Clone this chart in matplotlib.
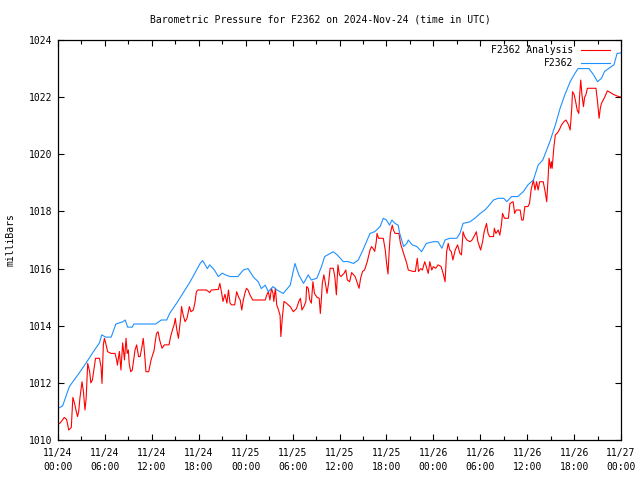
import numpy as np
import pandas as pd
import matplotlib
matplotlib.use('Agg')
import matplotlib.pyplot as plt
import matplotlib.dates as mdates
from matplotlib.ticker import MultipleLocator

# hours after 2024-11-24 00:00 UTC and pressure in mb
fc_hours = [0, 0.6, 1.45, 2.7, 3.6, 4.4, 5.3, 5.6, 6.1, 6.8, 7.4, 8.3, 8.6, 8.9, 9.5, 9.7,
            12.5, 13.2, 13.9, 14.3, 15.2, 16.1, 16.9, 17.5, 18.2, 18.5, 19.1, 19.4, 20.0,
            20.5, 21.0, 21.4, 22.0, 23.0, 23.7, 24.3, 25.0, 25.6, 26.0, 26.5, 26.9, 27.5,
            28.0, 28.8, 29.7, 30.3, 30.8, 31.4, 32.0, 32.4, 33.1, 33.7, 34.1, 35.2, 35.7,
            36.5, 37.0, 37.8, 38.4, 39.0, 39.9, 40.5, 41.2, 41.6, 42.0, 42.4, 42.7, 43.1,
            43.5, 43.7, 44.2, 44.6, 44.8, 45.3, 45.9, 46.5, 47.1, 48.0, 48.6, 49.1, 49.5,
            50.1, 51.0, 51.4, 51.8, 52.7, 53.3, 54.0, 54.6, 55.0, 55.7, 56.3, 57.0, 57.4,
            58.0, 58.8, 59.5, 60.1, 60.8, 61.4, 62.0, 62.9, 63.6, 64.2, 64.8, 65.5, 66.1,
            66.5, 67.9, 68.5, 69.0, 69.5, 69.9, 70.4, 71.1, 71.5, 72.0]
fc_mb = [1011.1, 1011.2, 1011.87, 1012.34, 1012.7, 1013.04, 1013.4, 1013.68, 1013.6, 1013.6,
         1014.06, 1014.14, 1014.2, 1013.95, 1013.95, 1014.06, 1014.06, 1014.2, 1014.2, 1014.44,
         1014.8, 1015.19, 1015.54, 1015.84, 1016.19, 1016.28, 1016.0, 1016.13, 1015.95,
         1015.72, 1015.84, 1015.78, 1015.72, 1015.72, 1015.95, 1016.0, 1015.7, 1015.54,
         1015.3, 1015.42, 1015.19, 1015.37, 1015.25, 1015.13, 1015.42, 1016.18, 1015.78,
         1015.48, 1015.78, 1015.6, 1015.66, 1016.07, 1016.42, 1016.59, 1016.48, 1016.24,
         1016.25, 1016.18, 1016.3, 1016.65, 1017.23, 1017.29, 1017.47, 1017.76, 1017.7,
         1017.52, 1017.7, 1017.58, 1017.52, 1017.23, 1016.77, 1016.88, 1017.0, 1016.83,
         1016.77, 1016.59, 1016.88, 1016.94, 1016.94, 1016.71, 1017.0, 1017.06, 1017.06,
         1017.23, 1017.58, 1017.64, 1017.76, 1017.93, 1018.05, 1018.17, 1018.4, 1018.46,
         1018.46, 1018.34, 1018.52, 1018.52, 1018.69, 1018.93, 1019.1, 1019.62, 1019.8,
         1020.44, 1021.02, 1021.6, 1022.07, 1022.54, 1022.83, 1023.0, 1023.0, 1022.78,
         1022.54, 1022.66, 1022.9, 1023.0, 1023.13, 1023.53, 1023.55]

an_hours = [0.0, 0.3, 0.8, 1.1, 1.37, 1.7, 1.9, 2.1, 2.3, 2.5, 2.65, 2.8, 3.07, 3.25, 3.45,
            3.6, 3.8, 4.05, 4.2, 4.4, 4.8, 5.3, 5.5, 5.63, 5.8, 5.93, 6.1, 6.35, 6.8, 7.3,
            7.5, 7.6, 7.85, 8.05, 8.27, 8.5, 8.7, 8.85, 9.0, 9.1, 9.3, 9.5, 9.85, 10.06,
            10.3, 10.5, 10.74, 10.9, 11.0, 11.25, 11.6, 11.9, 12.3, 12.4, 12.6, 12.8, 13.0,
            13.3, 13.6, 14.2, 14.4, 14.7, 14.85, 15.0, 15.2, 15.4, 15.7, 15.8, 16.0, 16.25,
            16.5, 16.8, 17.0, 17.3, 17.5, 17.7, 17.9, 19.0, 19.4, 19.6, 20.5, 20.7, 20.9,
            21.1, 21.35, 21.6, 21.8, 22.0, 22.2, 22.6, 22.85, 23.1, 23.3, 23.5, 23.7, 23.9,
            24.1, 24.3, 24.55, 24.9, 26.5, 26.7, 26.9, 27.1, 27.3, 27.5, 27.6, 27.8, 27.97,
            28.2, 28.4, 28.5, 28.7, 28.9, 29.2, 29.7, 30.1, 30.5, 30.8, 31.0, 31.2, 31.45,
            31.7, 31.8, 32.0, 32.2, 32.4, 32.6, 32.8, 33.1, 33.4, 33.55, 33.7, 33.8, 34.0,
            34.2, 34.4, 34.6, 34.8, 35.2, 35.4, 35.6, 35.8, 36.0, 36.2, 36.6, 36.8, 37.0,
            37.3, 37.55, 38.0, 38.3, 38.5, 38.7, 38.95, 39.2, 39.55, 39.9, 40.1, 40.3, 40.5,
            40.7, 40.8, 41.0, 41.6, 41.85, 42.0, 42.2, 42.35, 42.5, 42.75, 42.9, 43.1, 43.6,
            43.8, 44.2, 44.6, 44.8, 45.4, 45.7, 45.95, 46.1, 46.4, 46.6, 46.9, 47.1, 47.35,
            47.55, 47.8, 48.0, 48.3, 48.6, 49.0, 49.3, 49.5, 49.7, 49.9, 50.1, 50.3, 50.5,
            50.8, 51.1, 51.4, 51.6, 51.8, 52.0, 52.3, 52.7, 52.95, 53.2, 53.5, 53.7, 54.05,
            54.3, 54.5, 54.8, 55.0, 55.2, 55.7, 55.8, 56.0, 56.3, 56.5, 56.7, 56.85, 57.1,
            57.6, 57.8, 58.2, 58.4, 58.6, 59.1, 59.3, 59.5, 59.7, 60.1, 60.3, 60.5, 60.8,
            61.0, 61.2, 61.4, 61.6, 62.05, 62.3, 62.5, 62.7, 62.8, 63.0, 63.1, 63.2, 63.4,
            63.6, 63.85, 64.1, 64.4, 64.7, 64.96, 65.3, 65.5, 65.7, 65.8, 66.0, 66.2, 66.4,
            66.6, 66.7, 66.85, 67.0, 67.2, 67.35, 67.5, 67.7, 68.8, 69.0, 69.2, 69.35, 69.5,
            69.95, 70.25, 70.6, 71.0, 71.5, 72.0]
an_mb = [1010.55, 1010.6, 1010.79, 1010.72, 1010.35, 1010.44, 1011.49, 1011.3, 1011.05,
         1010.82, 1011.0, 1011.46, 1012.04, 1011.7, 1011.05, 1011.46, 1012.68, 1012.39,
         1012.0, 1012.1, 1012.86, 1012.86, 1012.57, 1011.98, 1013.33, 1013.56, 1013.39,
         1013.09, 1013.03, 1013.03, 1012.8, 1012.62, 1013.1, 1012.45, 1013.4, 1012.8,
         1013.56, 1013.03, 1013.15, 1012.68, 1012.39, 1012.45, 1013.15, 1013.33, 1012.92,
         1012.92, 1013.27, 1013.56, 1013.27, 1012.39, 1012.39, 1012.8, 1013.15, 1013.38,
         1013.73, 1013.79, 1013.5, 1013.21, 1013.33, 1013.33, 1013.62, 1013.91, 1014.03,
         1014.26, 1013.85, 1013.56, 1014.3, 1014.67, 1014.38, 1014.14, 1014.26, 1014.67,
         1014.49, 1014.55, 1014.79, 1015.19, 1015.25, 1015.25, 1015.16, 1015.25, 1015.27,
         1015.48, 1015.19, 1014.85, 1015.1, 1014.79, 1015.25, 1014.79, 1014.73, 1014.73,
         1015.19, 1015.0, 1014.9, 1014.55, 1014.9, 1015.13, 1015.31, 1015.25, 1015.08,
         1014.9, 1014.9, 1015.08, 1015.19, 1014.9, 1015.31, 1015.13, 1014.85, 1015.31,
         1014.73, 1014.55, 1014.36, 1013.62, 1014.32, 1014.85, 1014.79, 1014.67, 1014.49,
         1014.6, 1014.85, 1014.96, 1014.55, 1014.67, 1014.85, 1015.37, 1015.31, 1014.9,
         1014.79, 1015.54, 1015.13, 1015.0, 1014.96, 1014.43, 1015.0, 1015.48, 1015.78,
         1015.48, 1015.13, 1015.48, 1016.01, 1016.01, 1015.72, 1015.08, 1016.13, 1015.78,
         1015.72, 1015.84, 1015.95, 1015.6, 1015.54, 1015.86, 1015.72, 1015.48, 1015.31,
         1015.66, 1015.9, 1015.95, 1016.24, 1016.65, 1016.77, 1016.7, 1016.6, 1016.94,
         1017.23, 1017.06, 1017.06, 1016.65, 1016.24, 1015.81, 1016.59, 1017.23, 1017.52,
         1017.35, 1017.23, 1017.23, 1016.88, 1016.53, 1016.18, 1015.95, 1015.9, 1015.9,
         1016.36, 1015.9, 1016.0, 1015.95, 1016.24, 1016.07, 1015.83, 1016.24, 1015.95,
         1016.07, 1016.01, 1016.13, 1016.07, 1015.78, 1015.54, 1016.59, 1016.88, 1016.65,
         1016.59, 1016.3, 1016.65, 1016.83, 1016.53, 1016.48, 1017.29, 1017.12, 1017.0,
         1016.94, 1017.0, 1017.12, 1017.29, 1016.94, 1016.65, 1016.94, 1017.29, 1017.58,
         1017.23, 1017.12, 1017.12, 1017.41, 1017.23, 1017.35, 1017.17, 1017.52, 1017.93,
         1017.76, 1017.76, 1018.28, 1018.34, 1017.93, 1018.05, 1018.05, 1017.7, 1017.7,
         1018.17, 1018.17, 1018.28, 1018.75, 1019.1, 1018.75, 1019.04, 1018.75, 1019.04,
         1019.04, 1018.69, 1018.34, 1019.28, 1019.86, 1019.51, 1019.74, 1019.51, 1020.21,
         1020.68, 1020.74, 1020.85, 1021.03, 1021.14, 1021.2, 1021.03, 1020.85, 1021.6,
         1022.19, 1022.1, 1021.84, 1021.55, 1021.43, 1022.02, 1022.6, 1022.1, 1021.67,
         1022.0, 1022.07, 1022.31, 1022.31, 1021.84, 1021.26, 1021.6, 1021.78, 1022.02,
         1022.22, 1022.17, 1022.1, 1022.04, 1022.0]

labels = ['F2362 Analysis', 'F2362']
colors = ['#ff0000', '#1e90ff']

start = pd.Timestamp('2024-11-24 00:00')
end = pd.Timestamp('2024-11-27 00:00')
t_an = start + pd.to_timedelta(an_hours, unit='h')
t_fc = start + pd.to_timedelta(fc_hours, unit='h')

mono = 'DejaVu Sans Mono'
fs = 7

fig = plt.figure(figsize=(6.4, 4.8), dpi=100)
ax = fig.add_axes([58 / 640, 40 / 480, 563 / 640, 400 / 480])

ax.plot(t_an, an_mb, color=colors[0], lw=0.8)
ax.plot(t_fc, fc_mb, color=colors[1], lw=0.8)

ax.set_xlim(start, end)
ax.set_ylim(1010, 1024)
ax.yaxis.set_major_locator(MultipleLocator(2))
ax.xaxis.set_major_locator(mdates.HourLocator(byhour=range(0, 24, 6)))
ax.xaxis.set_minor_locator(mdates.HourLocator(byhour=range(0, 24, 3)))
ax.xaxis.set_major_formatter(mdates.DateFormatter('%m/%d\n%H:%M'))

ax.tick_params(which='both', direction='in', top=True, right=True, width=0.8,
               labelsize=fs, colors='black')
ax.tick_params(which='major', length=4)
ax.tick_params(which='minor', length=3)
ax.tick_params(axis='x', pad=6)
ax.tick_params(axis='y', pad=4)
for lab in ax.get_xticklabels() + ax.get_yticklabels():
    lab.set_family(mono)
    lab.set_linespacing(1.45)
for sp in ax.spines.values():
    sp.set_linewidth(0.9)

ax.set_ylabel('milliBars', fontsize=fs, family=mono, labelpad=10)
fig.text(0.5, 1 - 20 / 480, 'Barometric Pressure for F2362 on 2024-Nov-24 (time in UTC)',
         ha='center', va='center', fontsize=fs, family=mono)

# gnuplot style key: right-justified text followed by a line sample
for i, (lab, c) in enumerate(zip(labels, colors)):
    y = 1 - (10 + 13 * i) / 400
    ax.text(0.916, y, lab, transform=ax.transAxes, ha='right', va='center',
            fontsize=fs, family=mono)
    ax.plot([0.929, 0.98], [y, y], transform=ax.transAxes, color=c, lw=0.8)

fig.savefig('out.png', dpi=100)
